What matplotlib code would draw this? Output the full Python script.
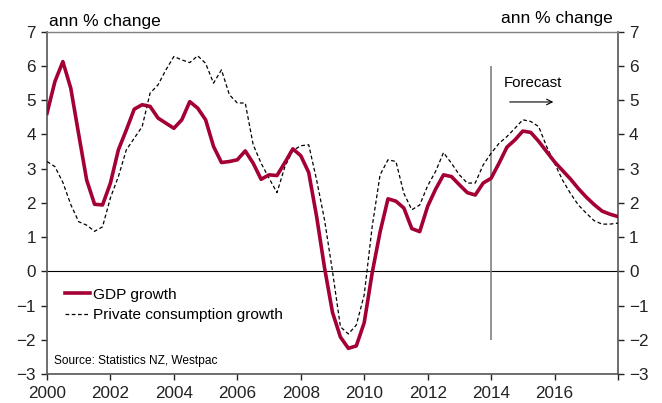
import numpy as np
import matplotlib
matplotlib.use("Agg")
import matplotlib.pyplot as plt

plt.rcParams['font.family'] = ['Liberation Sans', 'DejaVu Sans']

# quarterly, 2000 to 2018
gdp_growth = [4.62, 5.55, 6.13, 5.35, 4.0, 2.67, 1.96, 1.94, 2.58, 3.55,
              4.13, 4.74, 4.87, 4.82, 4.48, 4.33, 4.18, 4.43, 4.96, 4.77,
              4.43, 3.65, 3.18, 3.21, 3.26, 3.52, 3.16, 2.69, 2.82, 2.8,
              3.18, 3.58, 3.38, 2.89, 1.6, 0.1, -1.2, -1.92, -2.25, -2.18,
              -1.5, -0.05, 1.15, 2.12, 2.05, 1.85, 1.25, 1.16, 1.9, 2.4,
              2.82, 2.77, 2.53, 2.3, 2.23, 2.58, 2.72, 3.16, 3.63, 3.84,
              4.1, 4.06, 3.8, 3.5, 3.2, 2.95, 2.7, 2.42, 2.17, 1.95,
              1.76, 1.67, 1.6]
consumption_growth = [3.21, 3.06, 2.6, 1.95, 1.45, 1.35, 1.17, 1.3, 2.15, 2.77,
                      3.55, 3.89, 4.23, 5.21, 5.45, 5.89, 6.28, 6.18, 6.1, 6.3,
                      6.08, 5.5, 5.89, 5.16, 4.92, 4.92, 3.7, 3.16, 2.72, 2.3,
                      3.06, 3.53, 3.67, 3.7, 2.67, 1.5, 0.0, -1.62, -1.83, -1.57,
                      -0.69, 1.3, 2.82, 3.26, 3.21, 2.28, 1.8, 1.94, 2.5, 2.92,
                      3.47, 3.16, 2.82, 2.58, 2.58, 3.11, 3.45, 3.74, 3.94, 4.18,
                      4.43, 4.38, 4.23, 3.65, 3.16, 2.67, 2.28, 1.94, 1.7, 1.48,
                      1.38, 1.38, 1.41]
years = 2000 + np.arange(len(gdp_growth)) / 4

x_ticks = list(range(2000, 2019, 2))
x_labels = [str(y) for y in x_ticks[:-1]] + ['']
y_ticks = list(range(-3, 8))
forecast_start = 2014

fig = plt.figure(figsize=(6.62, 4.03), dpi=100)
ax = fig.add_axes([0.071, 0.072, 0.8625, 0.849])

red = '#A50034'
ax.plot(years, gdp_growth, color=red, lw=2.6, label='GDP growth', zorder=4)
ax.plot(years, consumption_growth, color='black', lw=0.9, ls=(0, (3, 2)),
        label='Private consumption growth', zorder=3)
ax.axhline(0, color='black', lw=0.8, zorder=2)
ax.vlines(forecast_start, -2, 6, color='#808080', lw=1.2, zorder=2)

ax.text(2014.4, 5.5, 'Forecast', fontsize=10.8, va='center', ha='left')
ax.annotate('', xy=(2016.05, 4.95), xytext=(2014.5, 4.95),
            arrowprops=dict(arrowstyle='->', color='black', lw=0.8))

ax.set_xlim(2000, 2018)
ax.set_ylim(-3, 7)
ax.set_xticks(x_ticks)
ax.set_xticklabels(x_labels)
ax.set_yticks(y_ticks)
ax.yaxis.set_ticks_position('both')
ax.tick_params(axis='y', direction='out', length=4, width=1, labelsize=12.3,
               labelright=True, colors='#222222', pad=4)
ax.tick_params(axis='x', direction='out', length=4, width=1, labelsize=12.3,
               colors='#222222', pad=5)
for s in ['left', 'right', 'bottom']:
    ax.spines[s].set_color('#555555')
    ax.spines[s].set_linewidth(1.2)
ax.spines['top'].set_color('#808080')
ax.spines['top'].set_linewidth(1.0)

fig.text(0.0745, 0.935, 'ann % change', fontsize=12.5, ha='left', va='baseline')
fig.text(0.9255, 0.943, 'ann % change', fontsize=12.5, ha='right', va='baseline')

ax.legend(loc='center left', bbox_to_anchor=(0.031, 0.202), frameon=False,
          fontsize=11.1, handlelength=1.65, handletextpad=0.2, labelspacing=0.42,
          borderaxespad=0, borderpad=0)
ax.text(2000.22, -2.62, 'Source: Statistics NZ, Westpac', fontsize=8.6,
        va='center', ha='left')

plt.savefig('out.png', dpi=100)
